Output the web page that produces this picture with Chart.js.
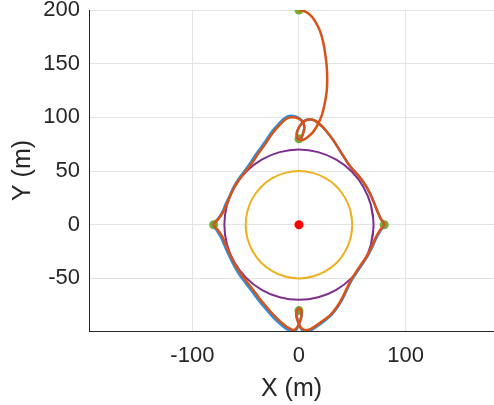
<!DOCTYPE html>
<html>
<head>
<meta charset="utf-8">
<script src="https://cdn.jsdelivr.net/npm/chart.js@4"></script>
<style>
  html, body { margin: 0; padding: 0; background: #fff; overflow: hidden; }
  canvas { display: block; }
</style>
</head>
<body>
<canvas id="pathChart" width="494" height="405"></canvas>
<script>
// Tick labels
const xTicks = [-100, 0, 100];
const yTicks = [-50, 0, 50, 100, 150, 200];

// Waypoints and centre
const waypoints = [[0, 200], [0, 80], [-80, 0], [0, -80], [80, 0]];
const centre = [[0, 0]];

// Circles r=50 and r=70 (every 15 deg, one step overlap to close)
const innerCircle = [
  [48.3, -12.9], [50, 0], [48.3, 12.9], [43.3, 25], [35.4, 35.4], [25, 43.3], [12.9, 48.3],
  [0, 50], [-12.9, 48.3], [-25, 43.3], [-35.4, 35.4], [-43.3, 25], [-48.3, 12.9],
  [-50, 0], [-48.3, -12.9], [-43.3, -25], [-35.4, -35.4], [-25, -43.3], [-12.9, -48.3],
  [0, -50], [12.9, -48.3], [25, -43.3], [35.4, -35.4], [43.3, -25], [48.3, -12.9],
  [50, 0], [48.3, 12.9]
];
const outerCircle = [
  [67.6, -18.1], [70, 0], [67.6, 18.1], [60.6, 35], [49.5, 49.5], [35, 60.6], [18.1, 67.6],
  [0, 70], [-18.1, 67.6], [-35, 60.6], [-49.5, 49.5], [-60.6, 35], [-67.6, 18.1],
  [-70, 0], [-67.6, -18.1], [-60.6, -35], [-49.5, -49.5], [-35, -60.6], [-18.1, -67.6],
  [0, -70], [18.1, -67.6], [35, -60.6], [49.5, -49.5], [60.6, -35], [67.6, -18.1],
  [70, 0], [67.6, 18.1]
];

// Trajectories
const bluePath = [
  [1.5, 79.5], [3.5, 84], [5, 90], [4, 95.5], [0.5, 99], [-4, 101], [-8, 101.5], [-13, 99.5],
  [-19, 94], [-26, 86], [-32, 77], [-39, 67.5], [-45, 58.5], [-51, 50], [-56, 43.5],
  [-61, 35.5], [-65, 27], [-69, 18.5], [-72, 11.5], [-76, 5.5], [-80, 0],
  [-77, -5.5], [-73, -12], [-70, -19], [-66, -28], [-61, -38], [-56, -46.5], [-50, -54.5],
  [-43, -63.5], [-37, -71.5], [-31, -78.5], [-24, -86.5], [-17, -93], [-11, -97.5], [-5, -99.5],
  [-2, -97], [1, -90], [2.5, -84], [1.5, -79], [0, -78], [-1.5, -79], [-2.5, -84], [-1, -90],
  [2, -97], [5.5, -99.5], [10.5, -98.5], [16.5, -95], [23.5, -90], [30.5, -84], [36.5, -76.5],
  [41.5, -68], [45.5, -59.5], [49, -52.5], [53.5, -45.5], [58.5, -38], [64, -30], [68.5, -21.5],
  [72.5, -12.5], [76.5, -5.5], [80, 0],
  [76.5, 6], [73, 14], [69, 24], [63.5, 35], [56, 45.5], [48, 54.5], [40, 66.5], [32, 79],
  [25, 88], [19, 94], [14, 97.5], [9, 98], [5, 96.5], [1.5, 93], [-1.5, 87.5], [-2, 82.5],
  [-0.5, 79.5], [1.5, 79.5]
];
const orangePath = [
  [0, 200], [6, 198.5], [11, 195], [15.5, 189], [19.5, 181], [22.5, 171], [24.5, 160], [26, 148],
  [26.5, 136], [26, 124], [24, 112], [21.5, 102], [17.5, 93], [13, 86], [8, 81.5], [4, 79],
  [1.5, 79.5], [3.5, 84], [5, 90], [4, 95], [1, 98], [-3, 99.8], [-7, 100],
  [-12, 98.5], [-18, 93], [-25, 85], [-31, 76], [-38, 66.5], [-44, 57.5], [-50, 49.5],
  [-55, 43.5], [-60, 36], [-64, 28], [-68, 19], [-71, 12], [-75, 6], [-80, 0],
  [-76, -5], [-72, -11], [-69, -18], [-65, -27], [-60, -37], [-55, -45], [-49, -53],
  [-42, -62], [-36, -70], [-30, -77], [-23, -85], [-16, -91.5], [-10, -96], [-5, -98],
  [-2, -96], [1, -90], [2.5, -84], [1.5, -79], [0, -78], [-1.5, -79], [-2.5, -84], [-1, -90],
  [2, -96], [5, -98],
  [10, -97.5], [16, -94], [23, -89], [30, -83.5], [36, -76], [41, -67.5], [45, -59],
  [48.5, -52], [53, -45], [58, -37.5], [63.5, -29.6], [68, -21], [72, -12], [76, -5], [80, 0],
  [76.5, 6], [73, 14], [69, 24], [63.5, 35], [56, 45.5], [48, 54.5], [40, 66.5], [32, 79],
  [25, 88], [19, 94], [14, 97.5], [9, 98], [5, 96.5], [1.5, 93], [-1.5, 87.5], [-2, 82.5],
  [-0.5, 79.5], [1.5, 79.5]
];

const toXY = pts => pts.map(p => ({ x: p[0], y: p[1] }));
const textColor = '#262626';
const fontFamily = 'Liberation Sans, Arial, sans-serif';

function line(data, color, width) {
  return {
    data: toXY(data),
    showLine: true,
    borderColor: color,
    borderWidth: width,
    pointRadius: 0,
    tension: 0.35,
    fill: false
  };
}

function dots(data, color, r) {
  return {
    data: toXY(data),
    showLine: false,
    backgroundColor: color,
    borderColor: color,
    pointRadius: r,
    borderWidth: 0
  };
}

// first dataset is drawn on top
const pathChart = new Chart(document.getElementById('pathChart'), {
  type: 'scatter',
  data: {
    datasets: [
      line(orangePath, '#D95319', 2.5),
      line(bluePath, '#2f8fd8', 2.5),
      dots(waypoints, '#77AC30', 4.5),
      dots(centre, '#FF0000', 4.5),
      line(outerCircle, '#7E2F8E', 2),
      line(innerCircle, '#EDB120', 2)
    ]
  },
  options: {
    responsive: false,
    animation: false,
    layout: { autoPadding: false, padding: { top: 10, right: 0, bottom: 0, left: 0 } },
    plugins: { legend: { display: false }, tooltip: { enabled: false } },
    scales: {
      x: {
        type: 'linear',
        min: -197,
        max: 183,
        afterBuildTicks: s => { s.ticks = xTicks.map(v => ({ value: v })); },
        afterFit: s => { s.height = 74; s.paddingLeft = 0; s.paddingRight = 0; },
        grid: { color: '#e3e3e3', drawTicks: false },
        border: { color: textColor, width: 1 },
        ticks: { color: textColor, padding: 12, font: { family: fontFamily, size: 22 } },
        title: {
          display: true, text: 'X (m)', color: textColor,
          font: { family: fontFamily, size: 25 },
          padding: { top: 0, bottom: 1 }
        }
      },
      y: {
        type: 'linear',
        min: -99,
        max: 200,
        afterBuildTicks: s => { s.ticks = yTicks.map(v => ({ value: v })); },
        afterFit: s => { s.width = 89; s.paddingTop = 0; s.paddingBottom = 0; },
        grid: { color: '#e3e3e3', drawTicks: false },
        border: { color: textColor, width: 1 },
        ticks: { color: textColor, padding: 9, font: { family: fontFamily, size: 22 } },
        title: {
          display: true, text: 'Y (m)', color: textColor,
          font: { family: fontFamily, size: 25 },
          padding: { top: 8, bottom: 0 }
        }
      }
    }
  }
});
</script>
</body>
</html>
